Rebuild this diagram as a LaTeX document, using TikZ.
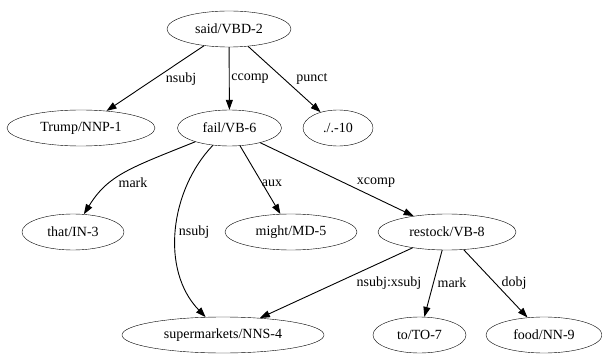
\documentclass[tikz,border=0pt]{standalone}
\usepackage{fontspec}
\setmainfont{Liberation Serif}
\usepackage{tikz}
\usetikzlibrary{arrows.meta,shapes.geometric}

\begin{document}
\begin{tikzpicture}[x=1pt, y=-1pt,
  word/.style={draw, ellipse, inner sep=0pt, minimum height=36pt, font=\fontsize{14}{16}\selectfont},
  lbl/.style={inner sep=0pt, font=\fontsize{14}{16}\selectfont},
  arr/.style={-{Triangle[length=10pt, width=7pt]}, line width=0.9pt}]
\useasboundingbox (0,0) rectangle (602,358);
\node[word, minimum width=124pt] (said) at (229,29) {said/VBD-2};
\node[word, minimum width=148pt] (trump) at (81,128) {Trump/NNP-1};
\node[word, minimum width=104pt] (fail) at (229.5,128) {fail/VB-6};
\node[word, minimum width=70pt] (punct) at (338,128) {./.-10};
\node[word, minimum width=102pt] (that) at (73,232) {that/IN-3};
\node[word, minimum width=132pt] (might) at (291,232) {might/MD-5};
\node[word, minimum width=138pt] (restock) at (447,232) {restock/VB-8};
\node[word, minimum width=202pt] (super) at (223,335) {supermarkets/NNS-4};
\node[word, minimum width=93pt] (to) at (419.5,335) {to/TO-7};
\node[word, minimum width=116pt] (food) at (544,335) {food/NN-9};
% edge labels
\node[lbl] (l1) at (181,79) {nsubj};
\node[lbl] (l2) at (250,79) {ccomp};
\node[lbl] (l3) at (312,79) {punct};
\node[lbl] (l4) at (133,183) {mark};
\node[lbl] (l5) at (194,232) {nsubj};
\node[lbl] (l6) at (272,183) {aux};
\node[lbl] (l7) at (376,183) {xcomp};
\node[lbl] (l8) at (389,283) {nsubj:xsubj};
\node[lbl] (l9) at (452,283) {mark};
\node[lbl] (l10) at (514,283) {dobj};
% edges
\draw[arr] (said) -- (trump);
\draw[arr] (said) -- (fail);
\draw[arr] (said) -- (punct);
\draw[arr] (fail) .. controls (130,168) and (108,175) .. (that);
\draw[arr] (fail) .. controls (170,190) and (160,270) .. (super);
\draw[arr] (fail) -- (might);
\draw[arr] (fail) -- (restock);
\draw[arr] (restock) -- (super);
\draw[arr] (restock) -- (to);
\draw[arr] (restock) -- (food);
\end{tikzpicture}
\end{document}
